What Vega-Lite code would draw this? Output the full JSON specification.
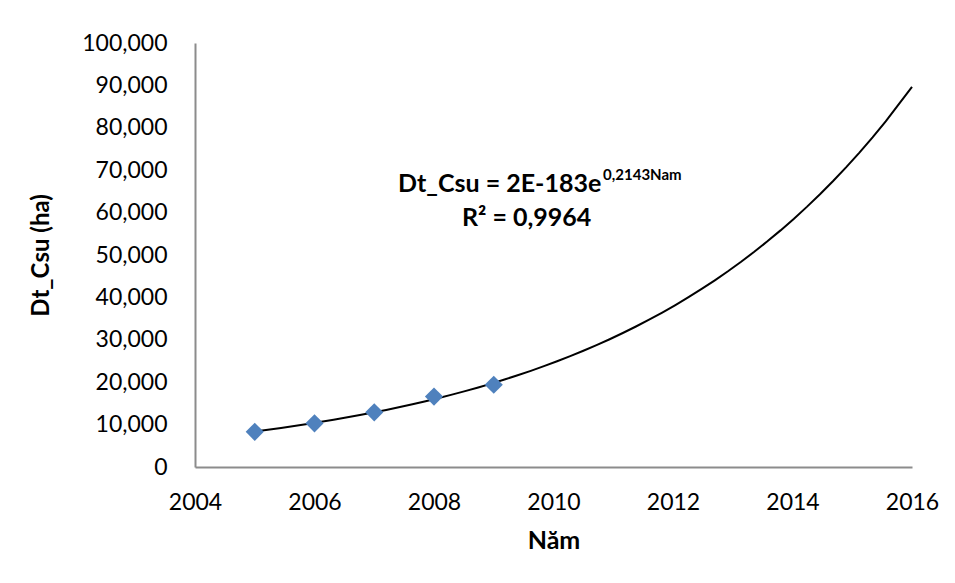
{
  "$schema": "https://vega.github.io/schema/vega-lite/v6.json",
  "width": 717,
  "height": 424,
  "autosize": {"type": "none"},
  "padding": {"left": 195, "top": 43, "right": 43, "bottom": 116},
  "background": "white",
  "config": {"view": {"stroke": null}, "font": "Lato"},
  "datasets": {
    "points": [
      {"year": 2005, "value": 8300},
      {"year": 2006, "value": 10300},
      {"year": 2007, "value": 12900},
      {"year": 2008, "value": 16600},
      {"year": 2009, "value": 19400}
    ],
    "notes": [
      {"year": 2010.8, "value": 66800, "label": "Dt_Csu = 2E-183e", "kind": "main"},
      {"year": 2010.83, "value": 68800, "label": "0,2143Nam", "kind": "sup"},
      {"year": 2009.55, "value": 58800, "label": "R² = 0,9964", "kind": "r2"}
    ]
  },
  "encoding": {
    "x": {
      "field": "year", "type": "quantitative",
      "scale": {"domain": [2004, 2016], "nice": false, "zero": false},
      "axis": {
        "title": "Năm", "values": [2004, 2006, 2008, 2010, 2012, 2014, 2016],
        "format": "d", "grid": false, "ticks": false, "tickSize": 0,
        "domainColor": "#8c8c8c", "domainWidth": 2,
        "labelFontSize": 23, "labelColor": "#000", "labelPadding": 24,
        "labelFont": "Lato", "labelFlush": false,
        "titleFontSize": 25, "titleFont": "Lato", "titleFontWeight": "bold",
        "titleColor": "#000", "titlePadding": 14
      }
    },
    "y": {
      "field": "value", "type": "quantitative",
      "scale": {"domain": [0, 100000], "nice": false},
      "axis": {
        "title": "Dt_Csu (ha)", "values": [0, 10000, 20000, 30000, 40000, 50000, 60000, 70000, 80000, 90000, 100000],
        "format": ",.0f", "grid": false, "ticks": false, "tickSize": 0,
        "domainColor": "#8c8c8c", "domainWidth": 2,
        "labelFontSize": 23, "labelColor": "#000", "labelPadding": 28,
        "labelFont": "Lato",
        "titleFontSize": 24, "titleFont": "Lato", "titleFontWeight": "bold",
        "titleColor": "#000", "titlePadding": 28
      }
    }
  },
  "layer": [
    {
      "data": {"name": "points"},
      "transform": [{"regression": "value", "on": "year", "method": "exp", "extent": [2005, 2016]}],
      "mark": {"type": "line", "color": "#000000", "strokeWidth": 2, "clip": false}
    },
    {
      "data": {"name": "points"},
      "mark": {"type": "point", "shape": "diamond", "filled": true, "size": 330, "color": "#4F81BD", "opacity": 1}
    },
    {
      "data": {"name": "notes"},
      "transform": [{"filter": "datum.kind === 'main'"}],
      "mark": {"type": "text", "align": "right", "baseline": "middle", "fontSize": 25, "fontWeight": "bold", "font": "Lato", "color": "#000"},
      "encoding": {"text": {"field": "label"}}
    },
    {
      "data": {"name": "notes"},
      "transform": [{"filter": "datum.kind === 'sup'"}],
      "mark": {"type": "text", "align": "left", "baseline": "middle", "fontSize": 15, "fontWeight": "bold", "font": "Lato", "color": "#000"},
      "encoding": {"text": {"field": "label"}}
    },
    {
      "data": {"name": "notes"},
      "transform": [{"filter": "datum.kind === 'r2'"}],
      "mark": {"type": "text", "align": "center", "baseline": "middle", "fontSize": 25, "fontWeight": "bold", "font": "Lato", "color": "#000"},
      "encoding": {"text": {"field": "label"}}
    }
  ]
}
